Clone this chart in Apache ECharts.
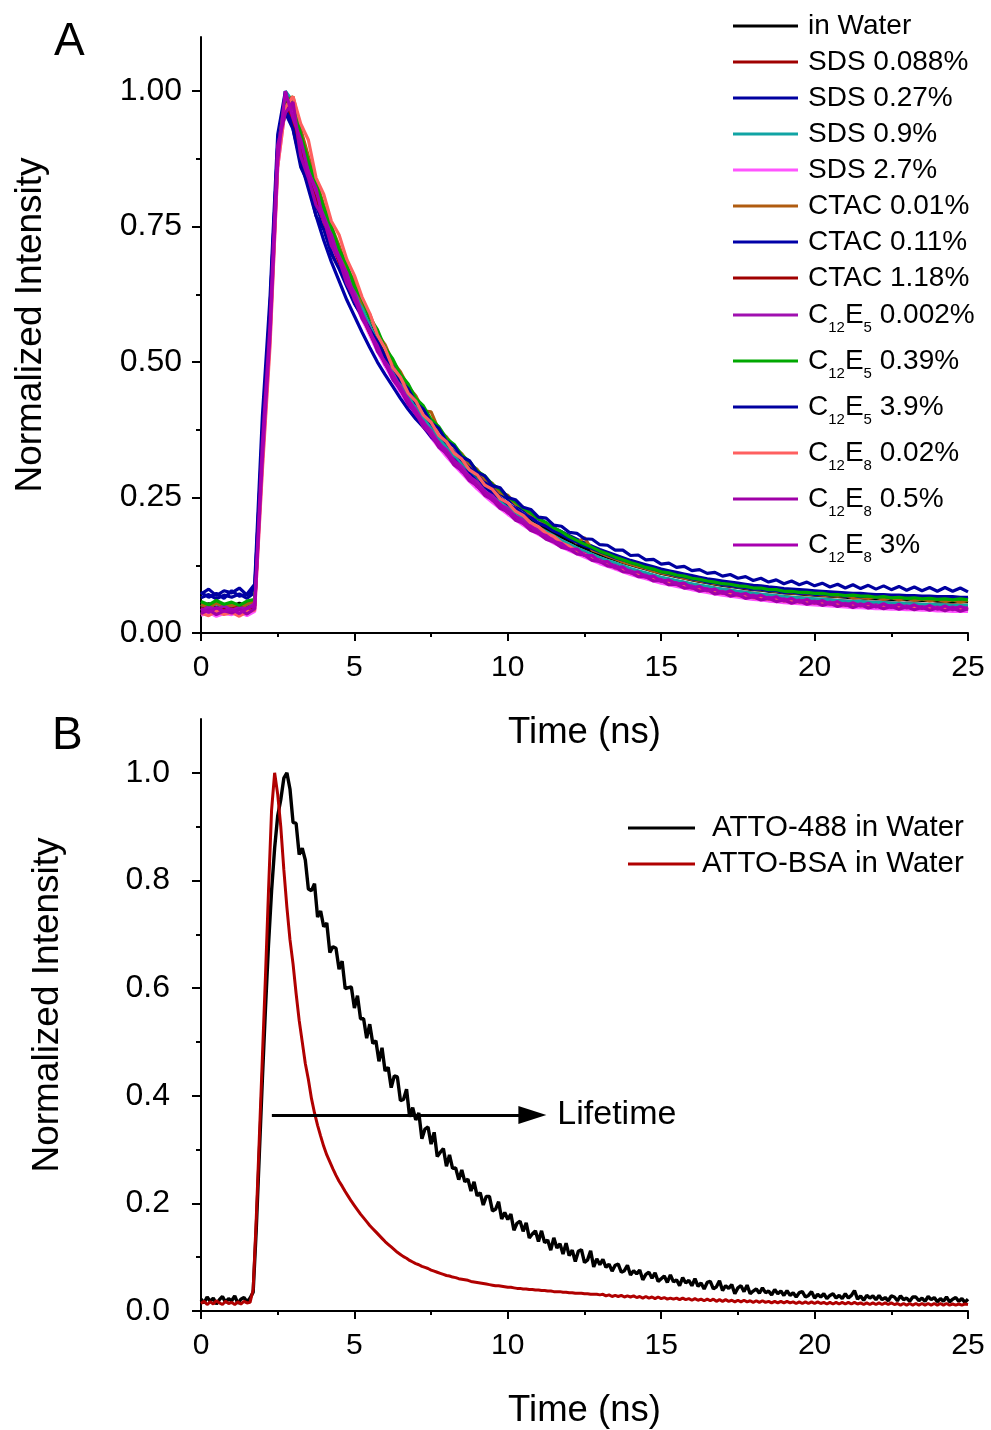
<!DOCTYPE html>
<html><head><meta charset="utf-8">
<script src="https://cdn.jsdelivr.net/npm/echarts@6/dist/echarts.min.js"></script>
<style>html,body{margin:0;padding:0;background:#fff}#c{width:991px;height:1430px}</style>
</head><body><div id="c"></div>
<script>
const FONT = '"Liberation Sans", Arial, sans-serif';

// ---------- Panel A: sampled every 0.25 ns from 0 to 25 ns ----------
const timeStepA = 0.25;
const namesA = ['in Water','SDS 0.088%','SDS 0.27%','SDS 0.9%','SDS 2.7%','CTAC 0.01%','CTAC 0.11%','CTAC 1.18%',
  'C12E5 0.002%','C12E5 0.39%','C12E5 3.9%','C12E8 0.02%','C12E8 0.5%','C12E8 3%'];
const colorsA = ['#000000','#A00000','#0000A0','#10A4A4','#FF55FF','#B05C10','#0000A8','#A00000',
  '#A010B0','#00A800','#0000A0','#FF6060','#A000A8','#A800B0'];

const sInWater = [0.05,0.054,0.047,0.052,0.049,0.055,0.048,0.055,0.33,0.56,0.88,0.99,0.97,0.91,0.87,0.82,0.78,0.74,0.705,0.67,0.632,0.6,0.57,0.54,0.513,0.488,0.464,0.442,0.42,0.4,0.381,0.363,0.346,0.33,0.315,0.3,0.286,0.273,0.261,0.249,0.238,0.228,0.218,0.209,0.2,0.192,0.184,0.177,0.17,0.163,0.157,0.151,0.145,0.14,0.135,0.13,0.126,0.122,0.118,0.114,0.11,0.107,0.104,0.101,0.098,0.095,0.093,0.09,0.088,0.086,0.084,0.082,0.08,0.079,0.077,0.076,0.074,0.073,0.072,0.071,0.07,0.069,0.068,0.067,0.066,0.065,0.065,0.064,0.063,0.063,0.062,0.062,0.061,0.061,0.06,0.06,0.059,0.059,0.058,0.058,0.058];
const sSDS0088 = [0.046,0.05,0.044,0.051,0.047,0.043,0.05,0.052,0.33,0.57,0.88,0.97,0.97,0.9,0.86,0.8,0.77,0.725,0.69,0.652,0.615,0.585,0.553,0.526,0.497,0.474,0.448,0.428,0.405,0.386,0.366,0.35,0.331,0.317,0.3,0.288,0.272,0.261,0.247,0.237,0.225,0.216,0.205,0.197,0.188,0.181,0.173,0.166,0.159,0.153,0.147,0.142,0.136,0.131,0.126,0.122,0.117,0.113,0.109,0.106,0.102,0.099,0.096,0.093,0.09,0.088,0.085,0.083,0.08,0.079,0.076,0.075,0.073,0.071,0.07,0.068,0.067,0.066,0.065,0.064,0.062,0.062,0.061,0.06,0.059,0.058,0.058,0.057,0.056,0.056,0.055,0.055,0.054,0.054,0.053,0.053,0.052,0.052,0.052,0.051,0.051];
const sSDS027 = [0.065,0.071,0.063,0.07,0.066,0.072,0.064,0.075,0.37,0.6,0.9,0.97,0.94,0.88,0.84,0.79,0.75,0.71,0.678,0.643,0.61,0.583,0.556,0.529,0.505,0.482,0.46,0.439,0.419,0.4,0.382,0.365,0.349,0.334,0.319,0.306,0.292,0.28,0.268,0.257,0.247,0.237,0.227,0.218,0.21,0.202,0.194,0.187,0.18,0.173,0.166,0.16,0.154,0.149,0.144,0.139,0.134,0.13,0.126,0.122,0.118,0.115,0.112,0.109,0.106,0.103,0.1,0.098,0.096,0.094,0.092,0.09,0.088,0.087,0.085,0.084,0.082,0.081,0.08,0.079,0.078,0.077,0.076,0.075,0.074,0.073,0.073,0.072,0.071,0.071,0.07,0.07,0.069,0.069,0.068,0.068,0.067,0.067,0.067,0.066,0.066];
const sSDS09 = [0.052,0.048,0.054,0.047,0.051,0.046,0.053,0.056,0.32,0.55,0.88,1.0,0.98,0.91,0.87,0.82,0.78,0.74,0.705,0.668,0.633,0.6,0.568,0.537,0.509,0.484,0.46,0.437,0.416,0.396,0.377,0.359,0.342,0.326,0.311,0.296,0.282,0.269,0.257,0.245,0.234,0.223,0.213,0.204,0.195,0.187,0.179,0.171,0.164,0.157,0.151,0.145,0.139,0.134,0.129,0.124,0.119,0.115,0.111,0.107,0.103,0.1,0.097,0.094,0.091,0.088,0.086,0.083,0.081,0.079,0.077,0.075,0.073,0.072,0.07,0.069,0.067,0.066,0.065,0.064,0.063,0.062,0.061,0.06,0.059,0.058,0.058,0.057,0.056,0.056,0.055,0.055,0.054,0.054,0.053,0.053,0.052,0.052,0.051,0.051,0.051];
const sSDS27 = [0.033,0.038,0.031,0.036,0.034,0.039,0.032,0.04,0.31,0.54,0.86,0.97,0.96,0.89,0.85,0.8,0.76,0.718,0.683,0.646,0.611,0.58,0.55,0.52,0.493,0.468,0.444,0.422,0.4,0.38,0.361,0.343,0.326,0.31,0.295,0.28,0.266,0.253,0.241,0.23,0.219,0.209,0.199,0.19,0.182,0.174,0.166,0.159,0.152,0.146,0.14,0.134,0.128,0.123,0.118,0.113,0.108,0.104,0.1,0.096,0.092,0.089,0.086,0.083,0.08,0.077,0.075,0.072,0.07,0.068,0.066,0.064,0.062,0.061,0.059,0.058,0.056,0.055,0.054,0.053,0.052,0.051,0.05,0.049,0.048,0.047,0.047,0.046,0.045,0.045,0.044,0.044,0.043,0.043,0.042,0.042,0.041,0.041,0.04,0.04,0.04];
const sCTAC001 = [0.053,0.047,0.055,0.049,0.052,0.046,0.054,0.058,0.33,0.56,0.87,0.98,0.99,0.93,0.88,0.835,0.79,0.75,0.715,0.675,0.648,0.61,0.588,0.552,0.532,0.5,0.482,0.455,0.438,0.41,0.408,0.375,0.362,0.343,0.331,0.312,0.302,0.284,0.276,0.259,0.254,0.238,0.232,0.218,0.212,0.199,0.195,0.183,0.178,0.166,0.176,0.153,0.148,0.142,0.137,0.131,0.127,0.123,0.119,0.114,0.111,0.108,0.105,0.101,0.099,0.096,0.094,0.091,0.089,0.087,0.085,0.083,0.081,0.08,0.078,0.077,0.075,0.074,0.073,0.072,0.071,0.07,0.069,0.068,0.069,0.065,0.066,0.064,0.066,0.062,0.065,0.061,0.064,0.06,0.063,0.059,0.062,0.058,0.061,0.057,0.06];
const sCTAC011 = [0.075,0.066,0.073,0.064,0.078,0.068,0.072,0.09,0.4,0.62,0.92,1.0,0.93,0.87,0.82,0.77,0.725,0.685,0.65,0.615,0.585,0.555,0.527,0.5,0.477,0.455,0.433,0.413,0.395,0.38,0.362,0.348,0.332,0.32,0.305,0.294,0.28,0.27,0.258,0.249,0.238,0.23,0.22,0.213,0.203,0.197,0.188,0.182,0.174,0.168,0.161,0.156,0.15,0.145,0.139,0.135,0.13,0.126,0.121,0.118,0.113,0.11,0.106,0.104,0.1,0.098,0.094,0.093,0.089,0.088,0.085,0.084,0.081,0.081,0.078,0.078,0.075,0.076,0.073,0.074,0.071,0.072,0.07,0.071,0.068,0.07,0.067,0.069,0.066,0.068,0.065,0.067,0.064,0.066,0.064,0.066,0.063,0.065,0.063,0.065,0.063];
const sCTAC118 = [0.043,0.047,0.041,0.046,0.044,0.048,0.042,0.05,0.34,0.57,0.89,0.98,0.95,0.89,0.85,0.8,0.76,0.72,0.685,0.65,0.615,0.585,0.554,0.525,0.498,0.473,0.449,0.427,0.405,0.385,0.366,0.348,0.331,0.315,0.3,0.285,0.271,0.258,0.246,0.234,0.223,0.213,0.203,0.194,0.186,0.178,0.17,0.163,0.157,0.15,0.144,0.139,0.133,0.128,0.123,0.118,0.113,0.109,0.105,0.101,0.097,0.094,0.091,0.088,0.085,0.082,0.08,0.077,0.075,0.073,0.071,0.069,0.067,0.066,0.064,0.063,0.061,0.06,0.059,0.058,0.057,0.056,0.055,0.054,0.053,0.052,0.052,0.051,0.05,0.05,0.049,0.049,0.048,0.048,0.047,0.047,0.046,0.046,0.046,0.045,0.045];
const sC12E5_0002 = [0.041,0.048,0.043,0.05,0.042,0.047,0.044,0.055,0.34,0.58,0.89,0.99,0.97,0.92,0.855,0.815,0.78,0.725,0.7,0.655,0.63,0.588,0.562,0.528,0.505,0.476,0.456,0.43,0.412,0.388,0.373,0.35,0.338,0.318,0.307,0.288,0.279,0.261,0.253,0.237,0.23,0.215,0.209,0.196,0.191,0.179,0.175,0.163,0.16,0.149,0.147,0.137,0.135,0.126,0.125,0.116,0.115,0.107,0.107,0.099,0.099,0.092,0.093,0.086,0.087,0.08,0.082,0.075,0.077,0.071,0.073,0.067,0.07,0.064,0.066,0.061,0.063,0.058,0.061,0.056,0.059,0.054,0.057,0.052,0.055,0.05,0.054,0.049,0.052,0.048,0.051,0.047,0.05,0.046,0.049,0.046,0.048,0.045,0.048,0.044,0.047];
const sC12E5_039 = [0.058,0.052,0.06,0.053,0.057,0.051,0.059,0.062,0.34,0.57,0.88,0.99,0.98,0.92,0.87,0.83,0.785,0.75,0.708,0.68,0.64,0.617,0.582,0.56,0.526,0.506,0.477,0.46,0.433,0.419,0.394,0.381,0.359,0.348,0.328,0.317,0.299,0.29,0.274,0.265,0.251,0.242,0.23,0.222,0.211,0.204,0.194,0.187,0.178,0.171,0.164,0.158,0.151,0.146,0.14,0.135,0.13,0.126,0.121,0.118,0.113,0.111,0.107,0.105,0.101,0.099,0.096,0.094,0.091,0.09,0.087,0.086,0.083,0.083,0.08,0.08,0.077,0.077,0.075,0.075,0.073,0.073,0.071,0.071,0.069,0.07,0.068,0.068,0.066,0.067,0.065,0.066,0.064,0.065,0.063,0.064,0.062,0.063,0.061,0.063,0.061];
const sC12E5_39 = [0.072,0.081,0.069,0.078,0.074,0.083,0.07,0.082,0.36,0.6,0.9,0.96,0.93,0.86,0.83,0.77,0.745,0.7,0.672,0.64,0.608,0.585,0.56,0.538,0.51,0.492,0.466,0.451,0.425,0.413,0.388,0.378,0.354,0.345,0.325,0.318,0.297,0.29,0.272,0.268,0.25,0.246,0.232,0.228,0.214,0.212,0.199,0.197,0.186,0.184,0.174,0.173,0.163,0.162,0.153,0.153,0.143,0.144,0.135,0.136,0.127,0.129,0.121,0.123,0.115,0.117,0.11,0.112,0.105,0.108,0.101,0.104,0.097,0.101,0.094,0.098,0.091,0.096,0.089,0.094,0.087,0.092,0.085,0.09,0.083,0.089,0.082,0.088,0.081,0.087,0.08,0.086,0.079,0.085,0.078,0.084,0.077,0.084,0.077,0.083,0.076];
const sC12E8_002 = [0.037,0.032,0.04,0.034,0.038,0.031,0.039,0.042,0.3,0.53,0.86,0.97,0.99,0.94,0.91,0.84,0.81,0.76,0.735,0.69,0.66,0.62,0.59,0.55,0.525,0.49,0.472,0.443,0.428,0.402,0.389,0.365,0.353,0.332,0.321,0.301,0.292,0.273,0.265,0.248,0.24,0.225,0.217,0.203,0.196,0.184,0.178,0.166,0.16,0.151,0.145,0.139,0.132,0.128,0.12,0.117,0.111,0.108,0.103,0.1,0.096,0.093,0.089,0.087,0.083,0.081,0.078,0.076,0.073,0.072,0.069,0.068,0.065,0.065,0.062,0.062,0.059,0.06,0.057,0.058,0.055,0.056,0.053,0.054,0.051,0.053,0.05,0.052,0.049,0.05,0.048,0.049,0.047,0.048,0.046,0.047,0.045,0.046,0.044,0.046,0.044];
const sC12E8_05 = [0.036,0.043,0.034,0.041,0.037,0.044,0.035,0.045,0.35,0.57,0.9,0.96,0.98,0.88,0.84,0.79,0.765,0.715,0.69,0.645,0.618,0.58,0.558,0.52,0.5,0.468,0.45,0.422,0.406,0.38,0.366,0.343,0.332,0.31,0.3,0.281,0.272,0.254,0.246,0.23,0.224,0.208,0.203,0.189,0.184,0.173,0.168,0.158,0.155,0.146,0.144,0.134,0.132,0.124,0.122,0.113,0.112,0.104,0.104,0.096,0.097,0.089,0.09,0.083,0.084,0.077,0.08,0.072,0.075,0.068,0.071,0.064,0.067,0.061,0.064,0.058,0.061,0.055,0.059,0.053,0.057,0.051,0.055,0.049,0.053,0.047,0.052,0.046,0.05,0.045,0.049,0.044,0.048,0.043,0.047,0.042,0.046,0.041,0.046,0.04,0.045];
const sC12E8_3 = [0.045,0.038,0.047,0.04,0.044,0.036,0.046,0.05,0.32,0.55,0.87,1.0,0.95,0.91,0.85,0.82,0.76,0.735,0.69,0.665,0.615,0.59,0.555,0.53,0.496,0.478,0.448,0.432,0.404,0.39,0.364,0.352,0.33,0.319,0.298,0.29,0.27,0.262,0.245,0.238,0.222,0.216,0.202,0.197,0.184,0.18,0.169,0.165,0.154,0.155,0.143,0.143,0.131,0.132,0.12,0.122,0.111,0.113,0.103,0.105,0.095,0.098,0.09,0.092,0.083,0.086,0.078,0.081,0.073,0.078,0.07,0.073,0.066,0.07,0.063,0.067,0.059,0.064,0.057,0.062,0.055,0.06,0.053,0.058,0.051,0.056,0.05,0.055,0.048,0.054,0.047,0.053,0.046,0.052,0.045,0.051,0.044,0.05,0.043,0.049,0.044];

const valuesA = [sInWater,sSDS0088,sSDS027,sSDS09,sSDS27,sCTAC001,sCTAC011,sCTAC118,
  sC12E5_0002,sC12E5_039,sC12E5_39,sC12E8_002,sC12E8_05,sC12E8_3];

// ---------- Panel B: sampled every 0.1 ns from 0 to 25 ns ----------
const timeStepB = 0.1;
const namesB = ['ATTO-488 in Water','ATTO-BSA in Water'];
const colorsB = ['#000000','#B00000'];
const bATTO488 = [0.022,0.015,0.026,0.018,0.024,0.013,0.021,0.027,0.016,0.023,0.019,0.028,0.014,0.022,0.025,0.017,0.024,
  0.035,0.15,0.29,0.43,0.56,0.68,0.78,0.86,0.92,0.95,0.99,1.0,
  0.97,0.908,0.906,0.848,0.86,0.838,0.784,0.781,0.794,0.732,0.743,0.714,
  0.721,0.666,0.677,0.674,0.635,0.65,0.599,0.601,0.602,0.563,
  0.586,0.543,0.543,0.507,0.533,0.497,0.502,0.464,0.489,0.446,
  0.453,0.415,0.437,0.435,0.391,0.393,0.412,0.361,0.378,0.355,
  0.368,0.32,0.338,0.342,0.31,0.332,0.287,0.295,0.302,0.269,
  0.29,0.265,0.266,0.244,0.262,0.24,0.245,0.223,0.24,0.214,
  0.22,0.197,0.213,0.213,0.186,0.189,0.203,0.171,0.183,0.17,
  0.18,0.15,0.163,0.167,0.148,0.164,0.136,0.143,0.149,0.129,
  0.149,0.127,0.132,0.113,0.136,0.117,0.125,0.106,0.126,0.103,
  0.113,0.092,0.111,0.114,0.09,0.095,0.112,0.082,0.097,0.086,
  0.096,0.081,0.087,0.074,0.085,0.087,0.072,0.075,0.085,0.067,
  0.075,0.069,0.076,0.058,0.068,0.072,0.061,0.071,0.055,0.06,
  0.065,0.053,0.067,0.054,0.058,0.047,0.062,0.052,0.057,0.047,
  0.06,0.046,0.052,0.041,0.053,0.055,0.041,0.045,0.056,0.038,
  0.047,0.042,0.049,0.032,0.043,0.047,0.036,0.048,0.032,0.037,
  0.041,0.033,0.043,0.034,0.037,0.03,0.04,0.032,0.037,0.029,
  0.038,0.029,0.034,0.026,0.034,0.036,0.026,0.029,0.036,0.024,
  0.031,0.026,0.032,0.023,0.029,0.032,0.024,0.029,0.023,0.032,
  0.024,0.029,0.038,0.022,0.028,0.02,0.029,0.024,0.028,0.021,
  0.029,0.021,0.025,0.019,0.028,0.026,0.019,0.028,0.021,0.024,
  0.018,0.026,0.026,0.019,0.024,0.018,0.027,0.021,0.025,0.017,
  0.023,0.018,0.026,0.017,0.022,0.025,0.018,0.023,0.016,0.022];
const bATTOBSA = [0.014,0.018,0.012,0.017,0.013,0.019,0.015,0.012,0.018,0.014,0.016,0.012,0.017,0.013,0.018,0.015,0.016,
  0.04,0.17,0.32,0.47,0.62,0.78,0.93,1.0,0.96,0.9,0.82,0.75,
  0.69,0.645,0.59,0.54,0.5,0.46,0.43,0.395,0.368,0.345,0.325,0.306,
  0.29,0.277,0.264,0.252,0.241,0.232,0.222,0.213,0.204,0.196,
  0.188,0.18,0.173,0.166,0.159,0.153,0.147,0.141,0.135,0.129,
  0.124,0.119,0.114,0.109,0.105,0.101,0.098,0.094,0.091,0.088,
  0.086,0.083,0.081,0.079,0.076,0.074,0.072,0.07,0.068,0.066,
  0.065,0.063,0.062,0.06,0.059,0.058,0.057,0.055,0.054,0.053,
  0.052,0.051,0.05,0.049,0.048,0.047,0.047,0.046,0.045,0.044,
  0.044,0.043,0.042,0.042,0.041,0.041,0.04,0.04,0.039,0.039,
  0.038,0.038,0.037,0.037,0.036,0.036,0.036,0.035,0.035,0.034,
  0.034,0.033,0.033,0.033,0.032,0.032,0.031,0.031,0.031,0.03,
  0.031,0.028,0.03,0.027,0.029,0.027,0.029,0.026,0.028,0.026,
  0.028,0.025,0.027,0.024,0.027,0.024,0.026,0.023,0.026,0.023,
  0.025,0.022,0.024,0.022,0.024,0.021,0.024,0.021,0.023,0.02,
  0.023,0.02,0.022,0.019,0.022,0.019,0.022,0.018,0.021,0.018,
  0.021,0.018,0.02,0.017,0.02,0.017,0.02,0.017,0.019,0.016,
  0.019,0.016,0.019,0.016,0.018,0.015,0.018,0.015,0.018,0.015,
  0.018,0.015,0.017,0.014,0.017,0.014,0.017,0.014,0.017,0.014,
  0.017,0.014,0.016,0.013,0.016,0.013,0.016,0.013,0.016,0.013,
  0.016,0.013,0.016,0.013,0.015,0.012,0.015,0.012,0.015,0.012,
  0.015,0.012,0.015,0.012,0.015,0.012,0.014,0.011,0.014,0.011,
  0.014,0.011,0.014,0.011,0.014,0.011,0.014,0.011,0.014,0.011,
  0.014,0.011,0.014,0.011,0.013,0.011,0.013,0.011,0.013,0.012];

// ---------- Axes ticks / annotation ----------
const xTicks = [0,5,10,15,20,25];
const yTicksA = [0,0.25,0.5,0.75,1.0];
const yMinorA = [0.125,0.375,0.625,0.875];
const yTicksB = [0,0.2,0.4,0.6,0.8,1.0];
const yMinorB = [0.1,0.3,0.5,0.7,0.9];
const arrowFrom = [2.31, 0.364];
const arrowTo = [10.8, 0.364];
const annotationText = 'Lifetime';

// ---------- Build ----------
const chart = echarts.init(document.getElementById('c'), null, {renderer: 'canvas'});
const txt = (size) => ({fontFamily: FONT, fontSize: size, color: '#000', fontWeight: 'normal'});
const axisLine = {show: true, onZero: false, lineStyle: {color: '#000', width: 2}};

function xAxisFor(grid) {
  return {
    type: 'value', gridIndex: grid, min: 0, max: 25, interval: 5,
    axisLine: axisLine,
    axisTick: {show: true, inside: false, length: 8, customValues: xTicks, lineStyle: {color: '#000', width: 2}},
    minorTick: {show: true, splitNumber: 2, length: 4, lineStyle: {color: '#000', width: 2}},
    axisLabel: Object.assign(txt(30), {margin: 20, customValues: xTicks}),
    splitLine: {show: false}, minorSplitLine: {show: false},
    name: 'Time (ns)', nameLocation: 'middle', nameGap: 81,
    nameTextStyle: txt(36.5)
  };
}
function yMajor(grid, ticks, dec, margin, nameGap) {
  return {
    type: 'value', gridIndex: grid, min: 0, max: 1.1, position: 'left',
    axisLine: axisLine,
    axisTick: {show: true, length: 9, customValues: ticks, lineStyle: {color: '#000', width: 2}},
    axisLabel: Object.assign(txt(32), {margin: margin, customValues: ticks, formatter: v => v.toFixed(dec)}),
    splitLine: {show: false},
    name: 'Normalized Intensity', nameLocation: 'middle', nameRotate: 90, nameGap: nameGap,
    nameTextStyle: Object.assign(txt(37), {padding: [0, 0, 0, 20]})
  };
}
function yMinor(grid, ticks) {
  return {
    type: 'value', gridIndex: grid, min: 0, max: 1.1, position: 'left',
    axisLine: {show: false},
    axisTick: {show: true, length: 5, customValues: ticks, lineStyle: {color: '#000', width: 2}},
    axisLabel: {show: false}, splitLine: {show: false}
  };
}

const series = [];
valuesA.forEach((vals, k) => {
  series.push({
    name: namesA[k], type: 'line', xAxisIndex: 0, yAxisIndex: 0,
    data: vals.map((v, i) => [i * timeStepA, v]),
    symbol: 'none', color: colorsA[k],
    lineStyle: {width: 3.2, color: colorsA[k]}, itemStyle: {color: colorsA[k]},
    silent: true, animation: false
  });
});
[bATTO488, bATTOBSA].forEach((vals, k) => {
  const s = {
    name: namesB[k], type: 'line', xAxisIndex: 1, yAxisIndex: 2,
    data: vals.map((v, i) => [i * timeStepB, v]),
    symbol: 'none', color: colorsB[k],
    lineStyle: {width: k === 0 ? 3.4 : 3, color: colorsB[k]}, itemStyle: {color: colorsB[k]},
    silent: true, animation: false
  };
  if (k === 0) {
    s.markLine = {
      silent: true, animation: false,
      symbol: ['none', 'triangle'], symbolSize: [18, 28],
      lineStyle: {color: '#000', width: 3, type: 'solid'},
      itemStyle: {color: '#000'},
      label: Object.assign(txt(34), {show: true, position: 'end', distance: 25, formatter: annotationText}),
      data: [[{coord: arrowFrom}, {coord: arrowTo}]]
    };
  }
  series.push(s);
});

const subFmt = name => {
  const m = name.match(/^C(\d+)E(\d+) (.*)$/);
  return m ? '{b|C}{s|' + m[1] + '}{b|E}{s|' + m[2] + '}{b| ' + m[3] + '}' : name;
};

chart.setOption({
  backgroundColor: '#fff',
  animation: false,
  title: [
    {text: 'A', left: 54, top: 19, padding: 0, textStyle: txt(46)},
    {text: 'B', left: 52, top: 713, padding: 0, textStyle: txt(46)}
  ],
  grid: [
    {left: 201, right: 23, top: 37, bottom: 797},
    {left: 201, right: 23, top: 719, bottom: 116}
  ],
  xAxis: [xAxisFor(0), xAxisFor(1)],
  yAxis: [
    yMajor(0, yTicksA, 2, 19, 152), yMinor(0, yMinorA),
    yMajor(1, yTicksB, 1, 31, 135), yMinor(1, yMinorB)
  ],
  legend: [
    {
      data: namesA.slice(0, 8), orient: 'vertical', left: 733, top: 11, padding: 0,
      itemWidth: 65, itemHeight: 3, icon: 'rect', itemGap: 6, selectedMode: false,
      textStyle: Object.assign(txt(28), {lineHeight: 30, padding: [0, 0, 0, 5]})
    },
    {
      data: namesA.slice(8), orient: 'vertical', left: 733, top: 295, padding: 0,
      itemWidth: 65, itemHeight: 3, icon: 'rect', itemGap: 6, selectedMode: false,
      formatter: subFmt,
      textStyle: Object.assign(txt(28), {lineHeight: 40, padding: [0, 0, 0, 5], rich: {
        b: {fontFamily: FONT, fontSize: 28, lineHeight: 40, color: '#000'},
        s: {fontFamily: FONT, fontSize: 15, lineHeight: 15, verticalAlign: 'bottom', color: '#000'}
      }})
    },
    {
      data: namesB, orient: 'vertical', left: 628, top: 813, padding: 0,
      itemWidth: 67, itemHeight: 3, icon: 'rect', itemGap: 6, selectedMode: false,
      formatter: n => (n === namesB[0] ? '{p|' + n + '}' : '{q|' + n + '}'),
      textStyle: Object.assign(txt(29.5), {lineHeight: 30, rich: {
        p: {fontFamily: FONT, fontSize: 29.5, lineHeight: 30, color: '#000', padding: [0, 0, 0, 12]},
        q: {fontFamily: FONT, fontSize: 29.5, lineHeight: 30, color: '#000', padding: [0, 0, 0, 2]}
      }})
    }
  ],
  series: series
});
</script></body></html>
